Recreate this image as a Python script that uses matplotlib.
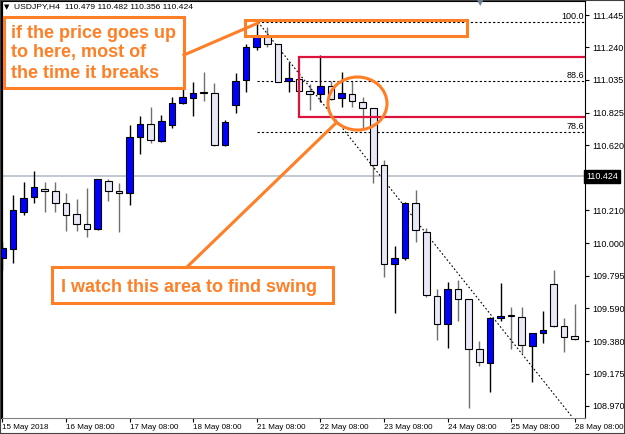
import numpy as np
import matplotlib.pyplot as plt
from matplotlib.patches import Rectangle, Ellipse
from matplotlib.lines import Line2D
import matplotlib.transforms as mtransforms

plt.rcParams['font.family'] = ['Liberation Sans', 'DejaVu Sans']

# USDJPY H4 candles
opens = [109.909, 109.964, 110.200, 110.291, 110.341, 110.331, 110.253, 110.184, 110.122, 110.089,
         110.394, 110.333, 110.320, 110.675, 110.753, 110.649, 110.749, 110.886, 110.922, 110.958,
         110.949, 110.622, 110.875, 111.034, 111.241, 111.306, 111.260, 111.029, 111.038, 110.966,
         110.945, 110.996, 110.918, 110.943, 110.896, 110.855, 110.496, 109.869, 109.909, 110.253,
         110.070, 109.668, 109.486, 109.709, 109.646, 109.329, 109.241, 109.525, 109.544, 109.536,
         109.352, 109.430, 109.741, 109.479, 109.412]
highs = [110.008, 110.306, 110.386, 110.458, 110.390, 110.386, 110.317, 110.280, 110.348, 110.410,
         110.407, 110.380, 110.749, 110.806, 110.865, 110.812, 110.924, 110.981, 111.023, 111.086,
         111.013, 110.780, 111.076, 111.261, 111.401, 111.369, 111.261, 111.146, 111.076, 111.008,
         111.192, 111.029, 111.086, 111.029, 110.924, 110.856, 110.527, 109.983, 110.261, 110.337,
         110.095, 109.709, 109.755, 109.768, 109.648, 109.384, 109.536, 109.747, 109.595, 109.595,
         109.430, 109.572, 109.831, 109.525, 109.616]
lows = [109.831, 109.875, 110.179, 110.255, 110.200, 110.200, 110.080, 110.080, 110.042, 110.084,
        110.270, 110.074, 110.242, 110.565, 110.633, 110.643, 110.728, 110.880, 110.808, 110.903,
        110.616, 110.616, 110.823, 110.958, 111.224, 111.242, 111.021, 110.956, 110.964, 110.844,
        110.892, 110.907, 110.861, 110.861, 110.728, 110.384, 109.785, 109.557, 109.894, 110.006,
        109.658, 109.386, 109.334, 109.511, 108.956, 109.225, 109.061, 109.510, 109.331, 109.308,
        109.124, 109.371, 109.468, 109.314, 109.388]
closes = [109.968, 110.211, 110.289, 110.355, 110.332, 110.253, 110.179, 110.120, 110.089, 110.407,
          110.333, 110.320, 110.675, 110.753, 110.654, 110.776, 110.886, 110.924, 110.953, 110.954,
          110.622, 110.766, 111.029, 111.241, 111.308, 111.261, 111.023, 111.048, 110.966, 110.945,
          110.996, 110.911, 110.949, 110.901, 110.855, 110.496, 109.869, 109.909, 110.253, 110.084,
          109.673, 109.486, 109.709, 109.646, 109.329, 109.251, 109.525, 109.540, 109.538, 109.356,
          109.430, 109.449, 109.477, 109.409, 109.392]

time_ticks = [0, 6, 12, 18, 24, 30, 36, 42, 48, 54]
time_labels = ['15 May 2018', '16 May 08:00', '17 May 08:00', '18 May 08:00', '21 May 08:00',
               '22 May 08:00', '23 May 08:00', '24 May 08:00', '25 May 08:00', '28 May 08:00']
price_ticks = [111.445, 111.240, 111.035, 110.825, 110.620, 110.210, 110.000,
               109.795, 109.590, 109.380, 109.175, 108.970]
last_price = 110.424
fib_levels = [111.399, 111.027, 110.703]
fib_names = ['100.0', '88.6', '78.6']
fib_start = 24
trend_x = [24.12, 53.75]
trend_y = [111.401, 108.901]
zone_x = [27.95, 56.0]
zone_y = [110.798, 111.181]

W, H = 625, 434
ORANGE = '#FF7F27'

def fx(px):
    return px / W

def fy(py):
    return 1 - py / H

fig = plt.figure(figsize=(W / 100, H / 100), dpi=100)
ax = fig.add_axes([fx(2), fy(418), 583 / W, 417 / H])

o = np.array(opens); h = np.array(highs); l = np.array(lows); c = np.array(closes)
x = np.arange(len(o))
bull = c > o
bear = ~bull

ax.axhline(last_price, color='#BCC4CC', lw=1.3, zorder=1)

ax.vlines(x[bull], l[bull], h[bull], color='black', lw=1, zorder=2)
ax.vlines(x[bear], l[bear], h[bear], color='#707070', lw=1, zorder=2)
ax.bar(x[bull], c[bull] - o[bull], bottom=o[bull], width=0.62,
       color='#0000FF', edgecolor='black', lw=0.8, zorder=3)
ax.bar(x[bear], o[bear] - c[bear], bottom=c[bear], width=0.62,
       color='#E8E8F6', edgecolor='black', lw=0.8, zorder=3)

# fibonacci levels
trans = mtransforms.blended_transform_factory(ax.transAxes, ax.transData)
for lev, name in zip(fib_levels, fib_names):
    ax.plot([fib_start, 60], [lev, lev], color='black', lw=0.8, ls=(0, (2, 2)), zorder=2)
    ax.text(0.998, lev + 0.008, name, transform=trans, ha='right', va='bottom', fontsize=6.5)

# trend line
ax.plot(trend_x, trend_y, color='black', lw=0.8, ls=(0, (1.5, 2)), zorder=2)

# red zone
ax.plot([zone_x[1], zone_x[0], zone_x[0], zone_x[1]],
        [zone_y[1], zone_y[1], zone_y[0], zone_y[0]], color='#DC143C', lw=1.6, zorder=4,
        solid_joinstyle='miter')

ax.set_xlim(-0.03, 54.97)
ax.set_ylim(108.894, 111.534)

ax.yaxis.tick_right()
ax.set_yticks(price_ticks)
ax.set_yticklabels(['%.3f' % v for v in price_ticks])
ax.tick_params(axis='y', length=3, pad=2, labelsize=6.5, width=0.8)
ax.set_xticks(time_ticks)
ax.set_xticklabels(time_labels)
ax.tick_params(axis='x', length=3, pad=1.5, labelsize=5.8, width=0.8)
for lab in ax.get_xticklabels():
    lab.set_ha('left')
for s in ax.spines.values():
    s.set_color('black')
    s.set_linewidth(0.8)
ax.spines['left'].set_linewidth(1.6)
ax.spines['bottom'].set_color('#808080')

ax.text(1.002, last_price, '110.424', transform=trans, ha='left', va='center', fontsize=6.5,
        color='white', bbox=dict(boxstyle='square,pad=0.25', fc='black', ec='black'))

# header
fig.text(fx(4), fy(7), '\u25BC', fontsize=5, color='black', va='center', family='DejaVu Sans')
fig.text(fx(14), fy(7), 'USDJPY,H4  110.479 110.482 110.356 110.424', fontsize=6.1, va='center')
fig.text(fx(480), fy(3), '\u25BC', fontsize=6, color='#708090', ha='center', va='center',
         family='DejaVu Sans')

# annotations
fig.add_artist(Rectangle((fx(245), fy(36)), (467 - 245) / W, 16 / H, transform=fig.transFigure,
                         fill=False, ec=ORANGE, lw=2.2))
fig.add_artist(Ellipse((fx(357.5), fy(103.5)), 59 / W, 53 / H, transform=fig.transFigure,
                       fill=False, ec=ORANGE, lw=2.2))
fig.add_artist(Line2D([fx(184), fx(258)], [fy(55), fy(23)], transform=fig.transFigure,
                      color=ORANGE, lw=2.2))
fig.add_artist(Line2D([fx(187), fx(336)], [fy(267), fy(123)], transform=fig.transFigure,
                      color=ORANGE, lw=2.2))

fig.add_artist(Rectangle((fx(4), fy(88)), 180 / W, 71 / H, transform=fig.transFigure,
                         fc='white', ec=ORANGE, lw=2.2))
for i, line in enumerate(['if the price goes up', 'to here, most of', 'the time it breaks']):
    fig.text(fx(11), fy(37.5 + 20 * i), line, color=ORANGE, fontsize=13.0, fontweight='bold',
             va='baseline')

fig.add_artist(Rectangle((fx(52), fy(303)), 281 / W, 36 / H, transform=fig.transFigure,
                         fc='white', ec=ORANGE, lw=2.2))
fig.text(fx(61), fy(291.5), 'I watch this area to find swing', color=ORANGE, fontsize=13.0,
         fontweight='bold', va='baseline')

fig.add_artist(Rectangle((0, 0), 1, 1, transform=fig.transFigure, fill=False,
                         ec='#404040', lw=1.5))

fig.savefig('out.png', dpi=100)
